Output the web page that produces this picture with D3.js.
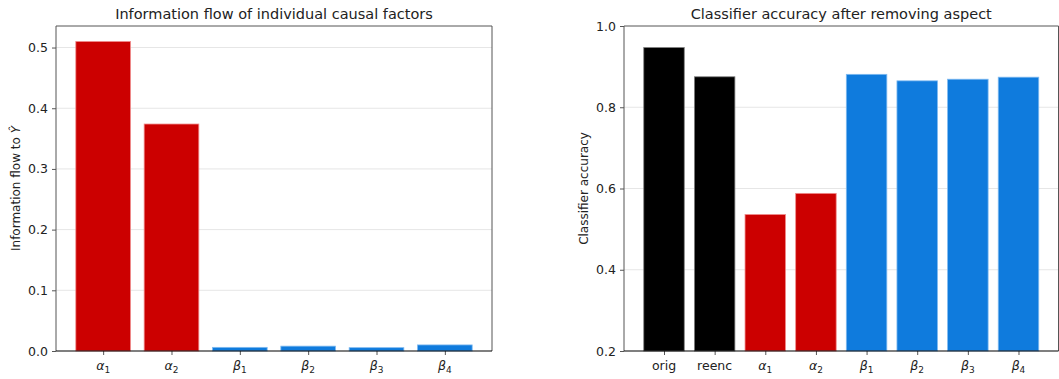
<!DOCTYPE html>
<html><head><meta charset="utf-8">
<script src="https://cdn.jsdelivr.net/npm/d3@7"></script>
<style>
body{margin:0;background:#fff;}
svg{display:block;font-family:"DejaVu Sans",sans-serif;}
</style></head>
<body><svg id="chart" width="1059" height="379"></svg>
<script>
// ---- data ----
const leftTitle = "Information flow of individual causal factors";
const leftCats = [["α","1"],["α","2"],["β","1"],["β","2"],["β","3"],["β","4"]];
const leftValues = [0.51, 0.374, 0.006, 0.008, 0.0055, 0.010];
const leftGroups = ["alpha","alpha","beta","beta","beta","beta"];
const leftTicks = [0.0, 0.1, 0.2, 0.3, 0.4, 0.5];

const rightTitle = "Classifier accuracy after removing aspect";
const rightCats = [["orig",""],["reenc",""],["α","1"],["α","2"],["β","1"],["β","2"],["β","3"],["β","4"]];
const rightValues = [0.947, 0.875, 0.536, 0.588, 0.881, 0.865, 0.869, 0.874];
const rightGroups = ["base","base","alpha","alpha","beta","beta","beta","beta"];
const rightTicks = [0.2, 0.4, 0.6, 0.8, 1.0];

const colors = {alpha:"#cc0000", beta:"#0f7bdd", base:"#000000"};
const edges = {alpha:"#f08c8c", beta:"#7fbaf0", base:"#808080"};

const svg = d3.select("#chart");

function panel(o){
  const g = svg.append("g");
  const n = o.cats.length;
  const m = 0.05*(n-1+0.8);
  const x = d3.scaleLinear().domain([-0.4-m, n-1+0.4+m]).range([o.x0, o.x1]);
  const y = d3.scaleLinear().domain(o.ydom).range([o.y1, o.y0]);
  // grid
  g.selectAll(".grid").data(o.ticks.filter(t=>t>o.ydom[0] && t<o.ydom[1])).enter()
    .append("line").attr("x1",o.x0).attr("x2",o.x1)
    .attr("y1",d=>y(d)).attr("y2",d=>y(d))
    .attr("stroke","#e6e6e6").attr("stroke-width",1);
  // bars
  const bw = x(0.8)-x(0);
  g.selectAll(".bar").data(o.values).enter().append("rect")
    .attr("x",(d,i)=>x(i)-bw/2).attr("width",bw)
    .attr("y",d=>y(d)).attr("height",d=>y(o.ydom[0])-y(d))
    .attr("fill",(d,i)=>colors[o.groups[i]])
    .attr("stroke",(d,i)=>edges[o.groups[i]]).attr("stroke-width",0.8);
  // spines
  g.append("line").attr("x1",o.x0).attr("x2",o.x0).attr("y1",o.y0).attr("y2",o.y1).attr("stroke","#555").attr("stroke-width",1);
  g.append("line").attr("x1",o.x0).attr("x2",o.x1).attr("y1",o.y0).attr("y2",o.y0).attr("stroke","#555").attr("stroke-width",1);
  g.append("line").attr("x1",o.x1).attr("x2",o.x1).attr("y1",o.y0).attr("y2",o.y1).attr("stroke","#555").attr("stroke-width",1);
  // y axis
  const ya = g.append("g").attr("transform",`translate(${o.x0},0)`)
    .call(d3.axisLeft(y).tickValues(o.ticks).tickFormat(d3.format(".1f")).tickSize(4).tickPadding(4));
  ya.select(".domain").remove();
  ya.selectAll("line").attr("stroke","#555");
  ya.selectAll("text").attr("font-size","12.5px").attr("fill","#222").attr("font-family","DejaVu Sans");
  // x axis
  const xa = g.append("g").attr("transform",`translate(0,${o.y1})`)
    .call(d3.axisBottom(x).tickValues(d3.range(n)).tickFormat("").tickSize(4));
  xa.select(".domain").remove();
  xa.selectAll("line").attr("stroke","#555");
  g.append("line").attr("x1",o.x0).attr("x2",o.x1).attr("y1",o.y1).attr("y2",o.y1).attr("stroke","#000").attr("stroke-width",1.2);
  // x tick labels
  o.cats.forEach((c,i)=>{
    const t = g.append("text").attr("x",x(i)).attr("y",o.y1+19)
      .attr("text-anchor","middle").attr("font-size","12.5px").attr("fill","#222");
    if(c[1]===""){ t.text(c[0]); }
    else {
      t.append("tspan").attr("font-style","italic").text(c[0]);
      t.append("tspan").attr("font-size","9px").attr("dy","3").text(c[1]);
    }
  });
  // title
  g.append("text").attr("x",(o.x0+o.x1)/2).attr("y",o.y0-7).attr("text-anchor","middle")
    .attr("font-size","14.5px").attr("fill","#222").text(o.title);
  // y label
  const yl = g.append("text").attr("transform",`translate(${o.ylx},${(o.y0+o.y1)/2}) rotate(-90)`)
    .attr("text-anchor","middle").attr("font-size","12px").attr("fill","#222");
  yl.append("tspan").text(o.ylabel);
  if(o.ylabelMath){ yl.append("tspan").attr("font-style","italic").text(o.ylabelMath); }
}

panel({x0:56, x1:492, y0:26, y1:351, ydom:[0, 0.5355], cats:leftCats, values:leftValues, groups:leftGroups,
  ticks:leftTicks, title:leftTitle, ylabel:"Information flow to ", ylabelMath:"Ŷ", ylx:20});
panel({x0:624, x1:1058.5, y0:26, y1:351, ydom:[0.2, 1.0], cats:rightCats, values:rightValues, groups:rightGroups,
  ticks:rightTicks, title:rightTitle, ylabel:"Classifier accuracy", ylabelMath:null, ylx:588});
</script></body></html>
